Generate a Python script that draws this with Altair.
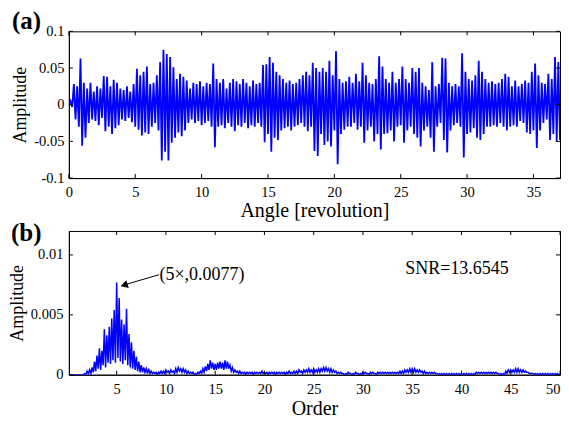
import altair as alt
import pandas as pd

FONT = "Liberation Serif"
BLUE = "#0000ff"

# ---------------- Panel (a): angular-domain signal ----------------
# positive / negative stroke extremes per 0.25 revolution, in units of 1e-3
sig_up = [5, 28, 25, 63, 30, 22, 30, 18, 25, 22,
          39, 38, 25, 34, 30, 22, 20, 25, 18, 28,
          49, 40, 45, 52, 28, 30, 40, 58, 75, 69,
          65, 51, 35, 42, 38, 33, 22, 30, 28, 32,
          25, 30, 28, 56, 35, 30, 35, 22, 30, 35,
          32, 28, 35, 30, 25, 33, 28, 30, 54, 55,
          65, 57, 45, 40, 35, 30, 33, 28, 30, 35,
          40, 45, 40, 57, 50, 45, 50, 45, 60, 40,
          73, 35, 30, 32, 38, 30, 42, 32, 57, 40,
          30, 28, 35, 66, 52, 35, 30, 45, 30, 35,
          52, 35, 30, 50, 45, 50, 30, 25, 20, 58,
          25, 28, 64, 63, 30, 25, 28, 25, 70, 45,
          35, 33, 40, 60, 45, 35, 30, 32, 28, 30,
          35, 42, 38, 25, 33, 25, 28, 33, 30, 45,
          56, 40, 30, 28, 42, 35, 65, 58]
sig_dn = [-3, -20, -30, -56, -45, -25, -20, -22, -28, -18,
          -36, -30, -40, -32, -28, -20, -22, -18, -24, -30,
          -34, -42, -38, -40, -30, -25, -35, -76, -64, -76,
          -52, -45, -38, -43, -35, -25, -20, -25, -22, -28,
          -25, -22, -30, -58, -30, -28, -32, -25, -30, -36,
          -28, -30, -25, -32, -28, -30, -25, -30, -51, -40,
          -64, -45, -48, -35, -32, -30, -35, -30, -28, -25,
          -30, -36, -30, -63, -70, -40, -55, -50, -57, -35,
          -81, -40, -34, -30, -30, -25, -34, -30, -52, -35,
          -30, -50, -40, -61, -40, -39, -35, -50, -30, -28,
          -52, -35, -30, -40, -45, -57, -35, -30, -45, -64,
          -30, -25, -48, -65, -35, -28, -25, -30, -72, -40,
          -38, -32, -45, -48, -40, -30, -30, -28, -30, -25,
          -30, -35, -30, -28, -30, -22, -25, -38, -40, -35,
          -59, -35, -25, -20, -48, -40, -50, -48]
rev_step = 0.25
a_xticks = [0, 5, 10, 15, 20, 25, 30, 35]
a_yticks = [-0.1, -0.05, 0, 0.05, 0.1]

# ---------------- Panel (b): order spectrum ----------------
# peaks and troughs per 0.25 order, in units of 1e-4
spec_pk = [0, 0, 0, 0, 0, 0, 0, 1, 3, 4,
           6, 11, 16, 22, 20, 38, 33, 40, 47, 54,
           77, 64, 46, 42, 55, 34, 27, 20, 15, 11,
           8, 6, 5, 5, 3, 2, 2, 2, 3, 3,
           4, 3, 4, 3, 5, 6, 5, 5, 4, 3,
           2, 2, 1, 2, 3, 5, 7, 9, 12, 10,
           9, 10, 11, 10, 12, 11, 8, 6, 4, 3,
           3, 2, 2, 2, 2, 2, 2, 2, 2, 3,
           2, 2, 2, 2, 2, 2, 2, 2, 2, 2,
           3, 2, 3, 3, 4, 3, 4, 4, 5, 4,
           5, 4, 5, 5, 6, 6, 5, 5, 4, 3,
           2, 2, 1, 1, 2, 1, 1, 2, 1, 1,
           2, 2, 1, 2, 2, 1, 2, 2, 2, 2,
           2, 2, 2, 2, 2, 3, 3, 4, 4, 5,
           5, 5, 4, 4, 3, 3, 2, 2, 2, 2,
           1, 1, 1, 1, 1, 1, 1, 1, 1, 1,
           1, 1, 1, 1, 1, 1, 2, 2, 2, 2,
           2, 2, 2, 2, 2, 1, 1, 1, 3, 4,
           4, 4, 5, 5, 4, 4, 3, 2, 1, 1,
           1, 1, 1, 1, 1, 1, 1, 1, 1, 1]
spec_tr = [0, 0, 0, 0, 0, 0, 0, 0, 1, 1,
           2, 3, 5, 4, 8, 6, 10, 9, 12, 10,
           14, 11, 9, 12, 8, 6, 5, 4, 3, 2,
           2, 2, 1, 1, 1, 1, 0, 1, 1, 1,
           2, 1, 2, 1, 2, 3, 2, 2, 1, 1,
           1, 0, 0, 1, 1, 2, 3, 4, 5, 4,
           4, 5, 5, 4, 5, 5, 3, 2, 2, 1,
           1, 1, 0, 1, 1, 0, 1, 1, 1, 1,
           1, 0, 1, 1, 0, 1, 1, 1, 0, 1,
           1, 1, 1, 1, 2, 1, 2, 2, 2, 2,
           2, 2, 2, 3, 3, 3, 2, 2, 2, 1,
           1, 1, 0, 0, 1, 0, 0, 1, 0, 0,
           1, 1, 0, 1, 1, 0, 1, 1, 1, 1,
           1, 1, 1, 1, 1, 1, 1, 2, 2, 2,
           2, 2, 2, 2, 1, 1, 1, 1, 1, 1,
           0, 0, 0, 0, 0, 0, 0, 0, 0, 0,
           0, 0, 0, 0, 0, 0, 1, 1, 1, 1,
           1, 1, 1, 1, 1, 0, 0, 0, 1, 2,
           2, 2, 2, 2, 2, 2, 2, 1, 1, 0,
           0, 0, 0, 0, 0, 0, 0, 0, 0, 0]
ord_step = 0.25
b_xticks = [5, 10, 15, 20, 25, 30, 35, 40, 45, 50]
b_yticks = [0, 0.005, 0.01]
peak_label = "(5\u00d7,0.0077)"
snr_label = "SNR=13.6545"

assert len(sig_up) == len(sig_dn)
assert len(spec_pk) == len(spec_tr)

rows_a = [(0.0, 0.0)]
for i, (u, d) in enumerate(zip(sig_up, sig_dn)):
    rows_a.append((i * rev_step + rev_step / 2, u * 1e-3))
    rows_a.append((i * rev_step + rev_step, d * 1e-3))
df_a = pd.DataFrame(rows_a, columns=["x", "y"])

rows_b = []
for i, (p, t) in enumerate(zip(spec_pk, spec_tr)):
    rows_b.append((i * ord_step, p * 1e-4))
    rows_b.append((i * ord_step + ord_step / 2, t * 1e-4))
df_b = pd.DataFrame(rows_b, columns=["x", "y"])

TICK = 4


def panel(df, xdom, ydom, xticks, yticks, W, H, xtitle, xlabpad, ylabpad, ytitlepad,
          flush, tag, tagx, tagy, lw):
    xs = alt.Scale(domain=xdom, nice=False, zero=False)
    ys = alt.Scale(domain=ydom, nice=False, zero=False)
    xaxis = alt.Axis(values=xticks, title=xtitle, ticks=False, grid=False,
                     labelExpr="'' + datum.value", labelPadding=xlabpad, titlePadding=2,
                     titleFontSize=20, labelFlush=flush)
    yaxis = alt.Axis(values=yticks, title="Amplitude", ticks=False, grid=False,
                     labelExpr="'' + datum.value", labelPadding=ylabpad,
                     titlePadding=ytitlepad, titleFontSize=18, labelFlush=False)
    X = lambda: alt.X("x:Q", scale=xs, axis=xaxis)
    Y = lambda: alt.Y("y:Q", scale=ys, axis=yaxis)

    line = alt.Chart(df).mark_line(color=BLUE, strokeWidth=lw, clip=True).encode(x=X(), y=Y())
    tx = pd.DataFrame({"x": xticks})
    ty = pd.DataFrame({"y": yticks})
    top = alt.Chart(tx).mark_rule(color="black", strokeWidth=1).encode(
        x=X(), y=alt.value(0), y2=alt.value(TICK))
    bot = alt.Chart(tx).mark_rule(color="black", strokeWidth=1).encode(
        x=X(), y=alt.value(H), y2=alt.value(H - TICK))
    lef = alt.Chart(ty).mark_rule(color="black", strokeWidth=1).encode(
        y=Y(), x=alt.value(0), x2=alt.value(TICK))
    rig = alt.Chart(ty).mark_rule(color="black", strokeWidth=1).encode(
        y=Y(), x=alt.value(W), x2=alt.value(W - TICK))
    lab = alt.Chart(pd.DataFrame({"t": [tag]})).mark_text(
        font=FONT, fontSize=25, fontWeight="bold", align="left", baseline="middle",
        color="black").encode(x=alt.value(tagx), y=alt.value(tagy), text="t:N")
    return [line, top, bot, lef, rig, lab]


WA, HA = 492, 147
WB, HB = 492, 144

layers_a = panel(df_a, [0, 37], [-0.1, 0.1], a_xticks, a_yticks, WA, HA,
                 "Angle [revolution]", 7, 5, 4.5, False, "(a)", -57, -10.5, 1.8)
chart_a = alt.layer(*layers_a).properties(width=WA, height=HA)

layers_b = panel(df_b, [0.15, 50], [0, 0.012], b_xticks, b_yticks, WB, HB,
                 "Order", 8, 6, 3.5, True, "(b)", -58, 2.5, 1.5)

ann_txt = alt.Chart(pd.DataFrame({"t": [peak_label]})).mark_text(
    font=FONT, fontSize=18, align="left", baseline="middle", color="black").encode(
    x=alt.X(datum=9.35, type="quantitative"), y=alt.Y(datum=0.00832, type="quantitative"), text="t:N")
arrow_line = alt.Chart(pd.DataFrame({"t": [peak_label]})).mark_rule(color="black", strokeWidth=1).encode(
    x=alt.X(datum=9.3, type="quantitative"), y=alt.Y(datum=0.00835, type="quantitative"),
    x2=alt.X2(datum=5.7), y2=alt.Y2(datum=0.00748))
arrow_head = alt.Chart(pd.DataFrame({"t": [peak_label]})).mark_point(
    shape="triangle-right", angle=162, filled=True, color="black", size=70, opacity=1).encode(
    x=alt.X(datum=5.75, type="quantitative"), y=alt.Y(datum=0.00747, type="quantitative"))
snr = alt.Chart(pd.DataFrame({"t": [snr_label]})).mark_text(
    font=FONT, fontSize=18, align="left", baseline="middle", color="black").encode(
    x=alt.X(datum=34.3, type="quantitative"), y=alt.Y(datum=0.0088, type="quantitative"), text="t:N")

chart_b = alt.layer(*layers_b, arrow_line, arrow_head, ann_txt, snr).properties(width=WB, height=HB)

chart = alt.vconcat(chart_a, chart_b, spacing=0).properties(padding=0).configure(font=FONT).configure_view(
    stroke="black", strokeWidth=1).configure_axis(
    labelColor="black", titleColor="black", domainColor="black", domainWidth=1,
    labelFont=FONT, titleFont=FONT, labelFontSize=14.5,
    titleFontWeight="normal")

chart.save("out.html", embed_options={"renderer": "svg", "actions": False})
